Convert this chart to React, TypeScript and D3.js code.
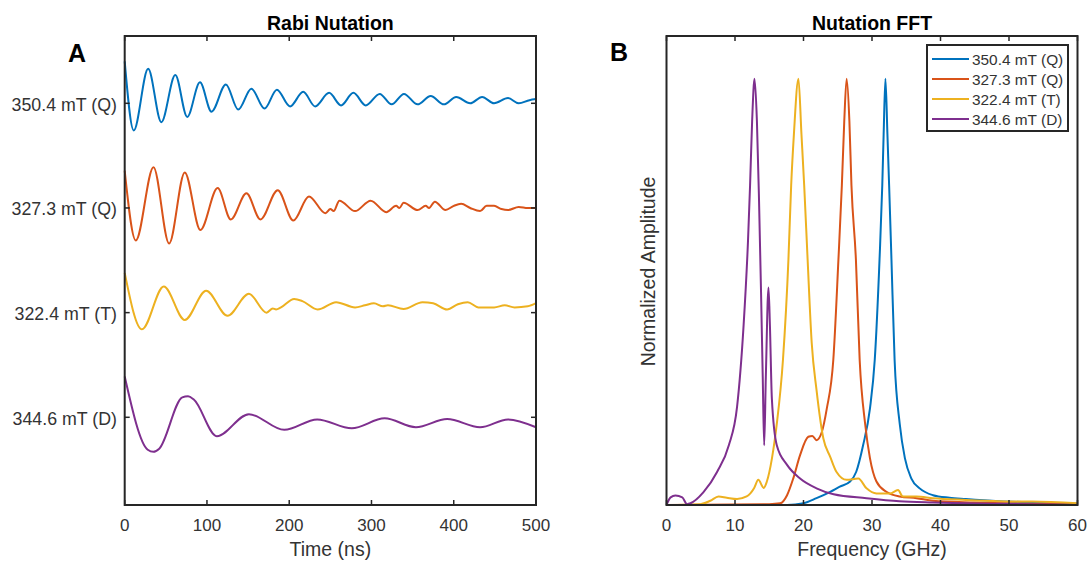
import React from "react";
import * as d3 from "d3";

type Pt = [number, number];

// ---------- Data ----------
const seriesNames = ["350.4 mT (Q)", "327.3 mT (Q)", "322.4 mT (T)", "344.6 mT (D)"];
const seriesColors = ["#0072BD", "#D95319", "#EDB120", "#7E2F8E"];

const timeTicks = [0, 100, 200, 300, 400, 500];
const freqTicks = [0, 10, 20, 30, 40, 50, 60];
const traceOffsets = [0, -1, -2, -3];

// Rabi nutation traces: [time (ns), amplitude relative to the trace's offset]
const rabi350Q: Pt[] = [
  [0, 0.4], [11, -0.26], [28.5, 0.33], [44.5, -0.18], [61.5, 0.27], [76, -0.13], [91.5, 0.2],
  [105.5, -0.08], [123, 0.18], [138, -0.06], [154, 0.14], [170, -0.05], [185, 0.13], [201, -0.03],
  [217, 0.11], [231.5, -0.03], [248.5, 0.1], [263, -0.02], [278, 0.1], [293, -0.02], [310, 0.09],
  [324.5, -0.01], [339.5, 0.09], [356, -0.01], [372, 0.07], [388, -0.01], [403, 0.06], [420, 0.0],
  [434.5, 0.06], [449, 0.0], [466, 0.05], [479, 0.0], [492, 0.03], [500, 0.04],
];
const rabi327Q: Pt[] = [
  [0, 0.356], [13.5, -0.31], [35, 0.39], [54, -0.34], [73, 0.34], [92, -0.21], [113, 0.19],
  [129, -0.11], [148, 0.14], [165, -0.11], [186, 0.17], [205, -0.12], [224, 0.11], [244, -0.05],
  [250, -0.01], [254, -0.03], [261, 0.07], [280, -0.03], [299, 0.07], [318, -0.04], [330, 0.02],
  [334, 0.0], [339, 0.05], [356, -0.02], [366, 0.02], [370, 0.0], [377, 0.06], [390, -0.02],
  [400, 0.02], [409, 0.04], [420, 0.0], [432, -0.03], [440, 0.02], [449, 0.02], [458, -0.01],
  [466, -0.02], [479, 0.01], [490, 0.0], [500, 0.0],
];
const rabi322T: Pt[] = [
  [0, 0.38], [21, -0.16], [47.5, 0.25], [73, -0.07], [99, 0.21], [125, -0.03], [151, 0.18],
  [172.5, 0.0], [180, 0.04], [184, 0.03], [190, 0.05], [206, 0.13], [216, 0.11], [234.5, 0.03],
  [257, 0.1], [280, 0.05], [292, 0.07], [303, 0.09], [314, 0.06], [320, 0.07], [339, 0.035],
  [362, 0.1], [375, 0.09], [392, 0.03], [405, 0.08], [417, 0.1], [430, 0.05], [449, 0.05],
  [462, 0.07], [474, 0.05], [490, 0.06], [500, 0.09],
];
const rabi344D: Pt[] = [
  [0, 0.39], [28, -0.31], [35, -0.33], [42, -0.3], [70, 0.19], [77, 0.2], [84, 0.17], [112, -0.18],
  [151, 0.03], [194, -0.12], [234, -0.02], [276, -0.105], [316, -0.01], [354, -0.095],
  [392, -0.016], [432, -0.095], [466, -0.02], [500, -0.095],
];

// FFT spectra: [frequency (GHz), normalized amplitude]
const fft350Q: Pt[] = [
  [0, 0], [10, 0], [17.6, 0.0], [20, 0.004], [21.9, 0.016], [23.9, 0.031], [25.3, 0.043],
  [26.8, 0.055], [27.7, 0.078], [28.7, 0.14], [29.7, 0.226], [30.4, 0.34], [31.1, 0.576],
  [31.5, 0.75], [31.7, 0.87], [31.96, 1.0], [32.25, 0.87], [32.5, 0.75], [32.84, 0.576],
  [33.3, 0.34], [34.05, 0.19], [34.8, 0.11], [35.75, 0.062], [36.96, 0.039], [38.9, 0.023],
  [41.3, 0.017], [43.7, 0.014], [48.6, 0.009], [53.4, 0.006], [60, 0.003],
];
const fft327Q: Pt[] = [
  [0, 0], [15, 0.002], [16.6, 0.004], [17.6, 0.023], [18.5, 0.062], [19.5, 0.117], [20.7, 0.16],
  [21.3, 0.162], [21.9, 0.152], [22.65, 0.17], [23.4, 0.226], [24.35, 0.34], [25.1, 0.576],
  [25.6, 0.75], [25.95, 0.9], [26.3, 1.0], [26.7, 0.9], [27.0, 0.75], [27.65, 0.576], [28.2, 0.34],
  [29.0, 0.19], [29.7, 0.11], [30.65, 0.055], [32.1, 0.031], [34.05, 0.02], [36.5, 0.016],
  [38.9, 0.01], [45, 0.006], [60, 0.002],
];
const fft322T: Pt[] = [
  [0, 0], [4.95, 0.002], [6.4, 0.01], [7.6, 0.02], [8.8, 0.017], [10.3, 0.014], [11.7, 0.02],
  [12.8, 0.04], [13.4, 0.059], [14.2, 0.04], [14.65, 0.055], [15.4, 0.11], [16.1, 0.19],
  [17.0, 0.34], [17.8, 0.576], [18.2, 0.75], [18.6, 0.87], [19.26, 1.0], [19.7, 0.87],
  [20.1, 0.75], [20.6, 0.576], [21.2, 0.38], [21.9, 0.27], [22.9, 0.156], [23.9, 0.113],
  [24.8, 0.078], [26.3, 0.059], [28.0, 0.062], [29.2, 0.039], [30.65, 0.027], [32.6, 0.027],
  [33.8, 0.035], [34.5, 0.02], [36.5, 0.02], [38.9, 0.016], [43.7, 0.012], [48.6, 0.009],
  [53.4, 0.008], [60, 0.004],
];
const fft344D: Pt[] = [
  [0, 0.0], [0.6, 0.018], [1.3, 0.022], [2.3, 0.018], [3.0, 0.002], [3.5, 0.004], [5.4, 0.03],
  [7.4, 0.078], [9.1, 0.14], [10.3, 0.23], [11.25, 0.42], [11.9, 0.62], [12.2, 0.75], [12.5, 0.9],
  [12.85, 1.0], [13.2, 0.9], [13.5, 0.72], [13.8, 0.5], [14.05, 0.3], [14.26, 0.14], [14.5, 0.3],
  [14.89, 0.51], [15.1, 0.42], [15.38, 0.25], [16.1, 0.14], [17.6, 0.094], [19.5, 0.062],
  [21.9, 0.039], [24.4, 0.025], [29.2, 0.016], [34.0, 0.009], [38.9, 0.006], [48.6, 0.003],
  [60, 0.0],
];

const rabiSeries = [rabi350Q, rabi327Q, rabi322T, rabi344D];
const fftSeries = [fft350Q, fft327Q, fft322T, fft344D];

// ---------- Layout ----------
const W = 1090;
const H = 561;
const FONT = "'Liberation Sans', Arial, Helvetica, sans-serif";
const AXIS = "#262626";
const TXT = "#333333";
const TICK = 5;

export default function App() {
  const xL = d3.scaleLinear().domain([0, 500]).range([124.7, 536]);
  const yL = d3.scaleLinear().domain([-3.838, 0.643]).range([505, 36]);
  const xR = d3.scaleLinear().domain([0, 60]).range([666.5, 1077.5]);
  const yR = d3.scaleLinear().domain([0, 1.1]).range([505, 36]);

  const rabiLine = (offset: number) =>
    d3
      .line<Pt>()
      .x((d) => xL(d[0]))
      .y((d) => yL(d[1] + offset))
      .curve(d3.curveMonotoneX);
  const fftLine = d3
    .line<Pt>()
    .x((d) => xR(d[0]))
    .y((d) => yR(d[1]))
    .curve(d3.curveMonotoneX);

  const [lx0, lx1] = xL.range();
  const [ly0, ly1] = [yL.range()[1], yL.range()[0]];
  const [rx0, rx1] = xR.range();
  const [ry0, ry1] = [yR.range()[1], yR.range()[0]];

  return (
    <svg
      width={W}
      height={H}
      style={{ position: "absolute", left: 0, top: 0, background: "#fff" }}
      fontFamily={FONT}
    >
      <rect x={0} y={0} width={W} height={H} fill="#fff" />

      {/* ---------------- Panel A ---------------- */}
      <text x={(lx0 + lx1) / 2} y={30} textAnchor="middle" fontSize={19.5} fontWeight="bold" fill="#000">
        Rabi Nutation
      </text>
      <text x={68} y={62} fontSize={25} fontWeight="bold" fill="#000">
        A
      </text>

      {rabiSeries.map((s, i) => (
        <path
          key={"r" + i}
          d={rabiLine(traceOffsets[i])(s) || ""}
          fill="none"
          stroke={seriesColors[i]}
          strokeWidth={2}
          strokeLinejoin="round"
        />
      ))}

      {/* ticks */}
      {timeTicks.map((t) => (
        <g key={"tt" + t}>
          <line x1={xL(t)} x2={xL(t)} y1={ly1} y2={ly1 - TICK} stroke={AXIS} strokeWidth={1.5} />
          <line x1={xL(t)} x2={xL(t)} y1={ly0} y2={ly0 + TICK} stroke={AXIS} strokeWidth={1.5} />
          <text x={xL(t)} y={531} textAnchor="middle" fontSize={17} fill={TXT}>
            {t}
          </text>
        </g>
      ))}
      {traceOffsets.map((o, i) => (
        <g key={"yt" + i}>
          <line x1={lx0} x2={lx0 + TICK} y1={yL(o)} y2={yL(o)} stroke={AXIS} strokeWidth={1.5} />
          <line x1={lx1} x2={lx1 - TICK} y1={yL(o)} y2={yL(o)} stroke={AXIS} strokeWidth={1.5} />
          <text x={117} y={yL(o) + 1} dy="0.35em" textAnchor="end" fontSize={17.8} fill={TXT}>
            {seriesNames[i]}
          </text>
        </g>
      ))}
      <rect x={lx0} y={ly0} width={lx1 - lx0} height={ly1 - ly0} fill="none" stroke={AXIS} strokeWidth={2} />
      <text x={(lx0 + lx1) / 2} y={556} textAnchor="middle" fontSize={19.5} fill={TXT}>
        Time (ns)
      </text>

      {/* ---------------- Panel B ---------------- */}
      <text x={(rx0 + rx1) / 2} y={30} textAnchor="middle" fontSize={19.5} fontWeight="bold" fill="#000">
        Nutation FFT
      </text>
      <text x={610} y={61} fontSize={25} fontWeight="bold" fill="#000">
        B
      </text>

      {fftSeries.map((s, i) => (
        <path
          key={"f" + i}
          d={fftLine(s) || ""}
          fill="none"
          stroke={seriesColors[i]}
          strokeWidth={2}
          strokeLinejoin="round"
        />
      ))}

      {freqTicks.map((f) => (
        <g key={"ft" + f}>
          <line x1={xR(f)} x2={xR(f)} y1={ry1} y2={ry1 - TICK} stroke={AXIS} strokeWidth={1.5} />
          <line x1={xR(f)} x2={xR(f)} y1={ry0} y2={ry0 + TICK} stroke={AXIS} strokeWidth={1.5} />
          <text x={xR(f)} y={531} textAnchor="middle" fontSize={17} fill={TXT}>
            {f}
          </text>
        </g>
      ))}
      <rect x={rx0} y={ry0} width={rx1 - rx0} height={ry1 - ry0} fill="none" stroke={AXIS} strokeWidth={2} />
      <text x={(rx0 + rx1) / 2} y={556} textAnchor="middle" fontSize={19.5} fill={TXT}>
        Frequency (GHz)
      </text>
      <text
        transform={`translate(648, ${(ry0 + ry1) / 2 + 1}) rotate(-90)`}
        textAnchor="middle"
        dy="0.35em"
        fontSize={19.5}
        fill={TXT}
      >
        Normalized Amplitude
      </text>

      {/* legend */}
      <rect x={927} y={45} width={141} height={86} fill="#fff" stroke={AXIS} strokeWidth={2} />
      {seriesNames.map((n, i) => (
        <g key={"lg" + i}>
          <line x1={932} x2={969} y1={59 + i * 20} y2={59 + i * 20} stroke={seriesColors[i]} strokeWidth={2} />
          <text x={972} y={59 + i * 20} dy="0.36em" fontSize={15.4} fill={TXT}>
            {n}
          </text>
        </g>
      ))}
    </svg>
  );
}
